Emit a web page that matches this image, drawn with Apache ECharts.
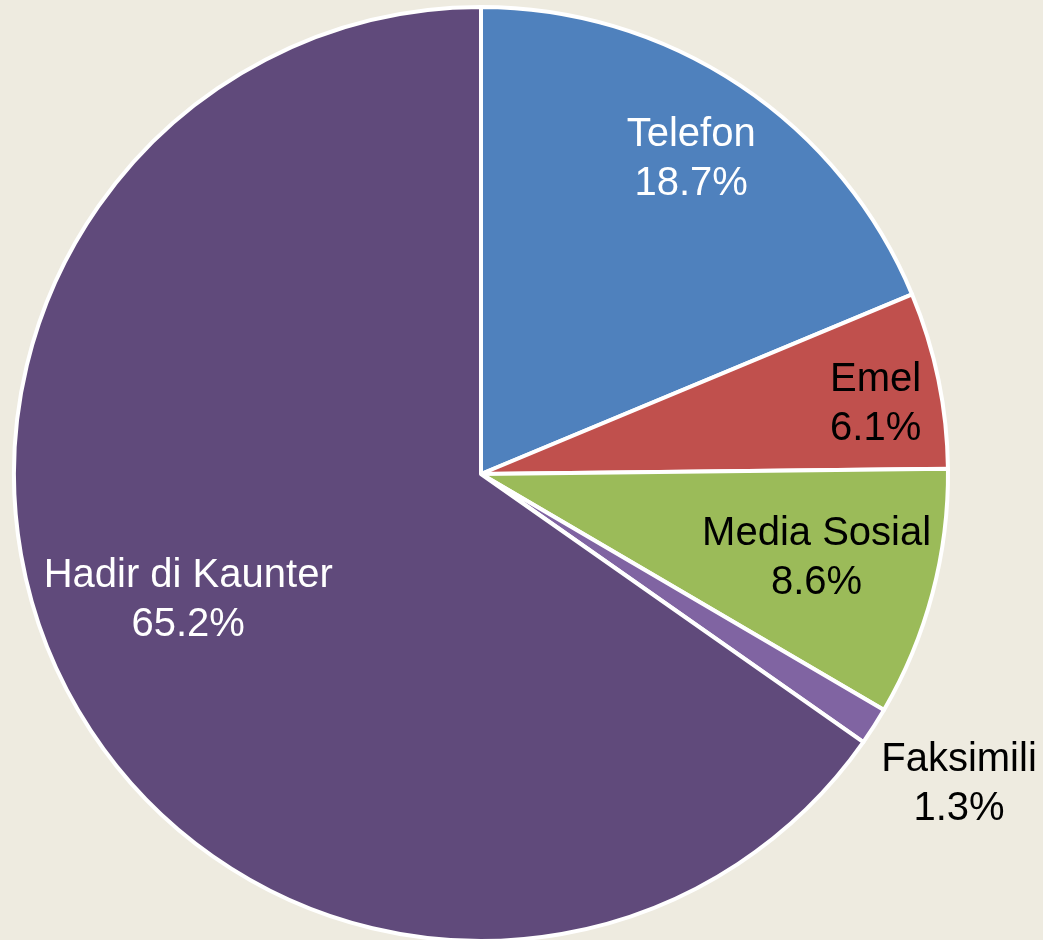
<!DOCTYPE html>
<html>
<head>
<meta charset="utf-8">
<script src="https://cdn.jsdelivr.net/npm/echarts@6/dist/echarts.min.js"></script>
<style>
  html, body { margin: 0; padding: 0; background: #EEEBE0; }
  #pie { width: 1043px; height: 940px; }
</style>
</head>
<body>
<div id="pie"></div>
<script>
// data
var categories = ['Telefon', 'Emel', 'Media Sosial', 'Faksimili', 'Hadir di Kaunter'];
var shares = [18.7, 6.1, 8.6, 1.3, 65.2];

var colors = ['#4F81BD', '#C0504D', '#9BBB59', '#8064A2', '#604A7B'];
var textColors = ['#fff', '#000', '#000', '#000', '#fff'];
// shift each label from the default inside spot
var labelOffsets = [[79, -118], [163, -22], [107, 24], [279, 183], [-83, 17]];

var myChart = echarts.init(document.getElementById('pie'));

var items = categories.map(function (name, i) {
  return {
    name: name,
    value: shares[i],
    itemStyle: { color: colors[i] },
    label: { color: textColors[i], offset: labelOffsets[i] }
  };
});

var option = {
  backgroundColor: '#EEEBE0',
  animation: false,
  series: [
    {
      type: 'pie',
      center: [481, 474],
      radius: 467,
      startAngle: 90,
      clockwise: true,
      avoidLabelOverlap: false,
      itemStyle: { borderColor: '#fff', borderWidth: 4 },
      label: {
        position: 'inside',
        fontFamily: 'Liberation Sans',
        fontSize: 40,
        lineHeight: 49,
        align: 'center',
        formatter: function (p) {
          return p.name + '\n' + p.value.toFixed(1) + '%';
        }
      },
      labelLine: { show: false },
      emphasis: { disabled: true },
      data: items
    }
  ]
};
myChart.setOption(option);
</script>
</body>
</html>
